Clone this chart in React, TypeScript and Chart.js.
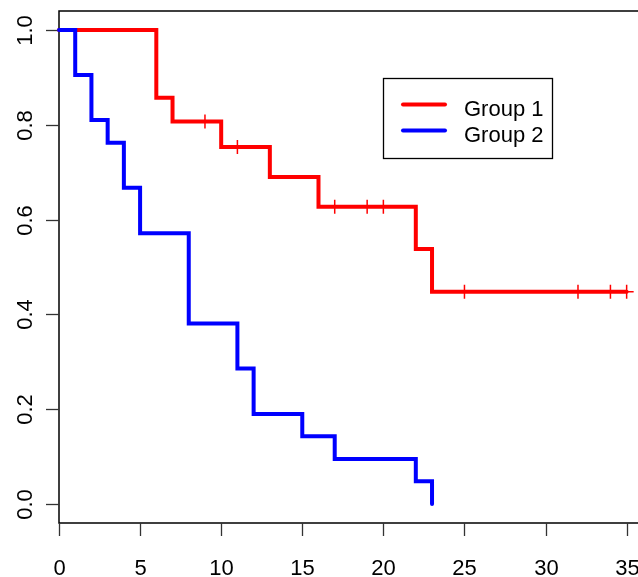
import React, { useEffect, useRef } from "react";
import { Chart, registerables } from "chart.js";

Chart.register(...registerables);

// Kaplan-Meier step points (time, survival)
const group1Times = [0, 6, 7, 10, 13, 16, 22, 23, 35];
const group1Surv = [1.0, 0.857, 0.807, 0.753, 0.69, 0.627, 0.538, 0.448, 0.448];
const group2Times = [0, 1, 2, 3, 4, 5, 8, 11, 12, 15, 17, 22, 23];
const group2Surv = [1.0, 0.905, 0.81, 0.762, 0.667, 0.571, 0.381, 0.286, 0.19, 0.143, 0.095, 0.048, 0.0];
// censored observation times (Group 1)
const group1Censor = [9, 11, 17, 19, 20, 25, 32, 34, 35];
const seriesLabels = ["Group 1", "Group 2"];
const seriesColors = ["#FF0000", "#0000FF"];
const xTicks = [0, 5, 10, 15, 20, 25, 30, 35];
const yTicks = [0.0, 0.2, 0.4, 0.6, 0.8, 1.0];

const FONT = '22px "Liberation Sans", Arial, sans-serif';

function survAt(times: number[], surv: number[], t: number) {
  let s = surv[0];
  for (let i = 0; i < times.length; i++) if (times[i] <= t) s = surv[i];
  return s;
}

const rAxesPlugin = {
  id: "rAxes",
  beforeDatasetsDraw(chart: any) {
    const { ctx, chartArea, scales } = chart;
    const xs = scales.x;
    const ys = scales.y;
    ctx.save();
    ctx.strokeStyle = "#000";
    ctx.lineWidth = 1.5;
    ctx.beginPath();
    ctx.moveTo(chartArea.right + 2, chartArea.top);
    ctx.lineTo(chartArea.left, chartArea.top);
    ctx.lineTo(chartArea.left, chartArea.bottom);
    ctx.lineTo(chartArea.right + 2, chartArea.bottom);
    ctx.stroke();
    ctx.strokeStyle = "#333";
    ctx.lineWidth = 1.3;
    ctx.fillStyle = "#000";
    ctx.font = FONT;
    // x ticks
    ctx.textAlign = "center";
    ctx.textBaseline = "alphabetic";
    for (const t of xTicks) {
      const px = Math.round(xs.getPixelForValue(t)) + 0.5;
      ctx.beginPath();
      ctx.moveTo(px, chartArea.bottom);
      ctx.lineTo(px, chartArea.bottom + 13);
      ctx.stroke();
      ctx.fillText(String(t), px, chartArea.bottom + 52);
    }
    // y ticks
    for (const t of yTicks) {
      const py = Math.round(ys.getPixelForValue(t)) + 0.5;
      ctx.beginPath();
      ctx.moveTo(chartArea.left, py);
      ctx.lineTo(chartArea.left - 13, py);
      ctx.stroke();
      ctx.save();
      ctx.translate(chartArea.left - 27, py);
      ctx.rotate(-Math.PI / 2);
      ctx.textAlign = "center";
      ctx.textBaseline = "alphabetic";
      ctx.fillText(t.toFixed(1), 0, 0);
      ctx.restore();
    }
    ctx.restore();
  },
  afterDatasetsDraw(chart: any) {
    const { ctx } = chart;
    ctx.save();
    const bx = 383.5, by = 78.5, bw = 169, bh = 80;
    ctx.fillStyle = "#fff";
    ctx.fillRect(bx, by, bw, bh);
    ctx.strokeStyle = "#000";
    ctx.lineWidth = 1.3;
    ctx.strokeRect(bx, by, bw, bh);
    ctx.font = FONT;
    ctx.textAlign = "left";
    ctx.textBaseline = "alphabetic";
    const rows = [104.5, 130.5];
    seriesLabels.forEach((lab, i) => {
      const y = rows[i];
      ctx.strokeStyle = seriesColors[i];
      ctx.lineWidth = 4;
      ctx.lineCap = "round";
      ctx.beginPath();
      ctx.moveTo(403, y);
      ctx.lineTo(445, y);
      ctx.stroke();
      ctx.fillStyle = "#000";
      ctx.fillText(lab, 464, y + 11.5);
    });
    ctx.restore();
  },
};

export default function App() {
  const ref = useRef<HTMLCanvasElement | null>(null);
  useEffect(() => {
    if (!ref.current) return;
    const g1 = group1Times.map((t, i) => ({ x: t, y: group1Surv[i] }));
    const g2 = group2Times.map((t, i) => ({ x: t, y: group2Surv[i] }));
    const c1 = group1Censor.map((t) => ({ x: t, y: survAt(group1Times, group1Surv, t) }));
    const chart = new Chart(ref.current, {
      type: "line",
      data: {
        datasets: [
          {
            label: seriesLabels[1],
            data: g2,
            borderColor: seriesColors[1],
            borderWidth: 4,
            stepped: true,
            pointRadius: 0,
            borderCapStyle: "round",
            borderJoinStyle: "miter",
            fill: false,
            order: 0,
            clip: false,
          } as any,
          {
            label: seriesLabels[0],
            data: g1,
            borderColor: seriesColors[0],
            borderWidth: 4,
            stepped: true,
            pointRadius: 0,
            borderCapStyle: "round",
            borderJoinStyle: "miter",
            fill: false,
            order: 1,
            clip: false,
          } as any,
          {
            label: "censored",
            data: c1,
            showLine: false,
            pointStyle: "cross",
            pointRadius: 7,
            pointBorderWidth: 1.5,
            pointBorderColor: seriesColors[0],
            pointBackgroundColor: seriesColors[0],
            borderColor: seriesColors[0],
            order: 2,
            clip: false,
          } as any,
        ],
      },
      options: {
        responsive: false,
        animation: false,
        events: [],
        layout: { autoPadding: false, padding: { left: 59, top: 11, right: 0, bottom: 54 } },
        scales: {
          x: { type: "linear", min: 0, max: 35.7, display: false },
          y: { type: "linear", min: -0.04, max: 1.04, display: false },
        },
        plugins: { legend: { display: false }, tooltip: { enabled: false } },
      },
      plugins: [rAxesPlugin],
    });
    return () => chart.destroy();
  }, []);
  return (
    <div style={{ position: "fixed", left: 0, top: 0, width: 638, height: 577, background: "#fff" }}>
      <canvas ref={ref} width={638} height={577} style={{ display: "block" }} />
    </div>
  );
}
